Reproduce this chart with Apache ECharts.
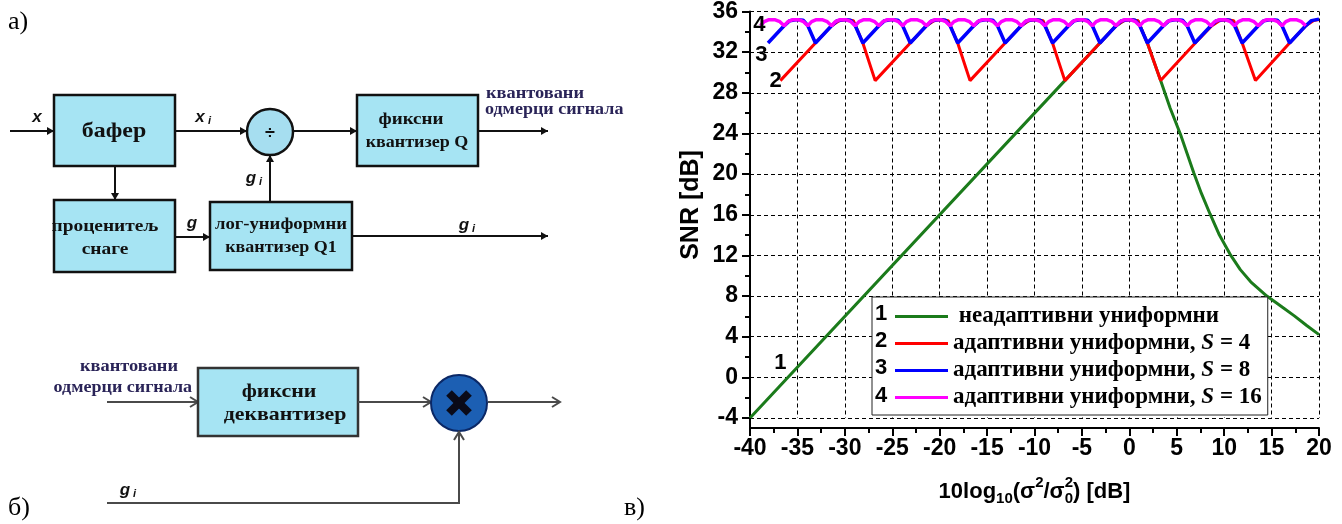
<!DOCTYPE html>
<html>
<head>
<meta charset="utf-8">
<script src="https://cdn.jsdelivr.net/npm/echarts@6/dist/echarts.min.js"></script>
<style>
  html, body { margin: 0; padding: 0; background: #fff; }
  #c { width: 1342px; height: 524px; }
</style>
</head>
<body>
<div id="c"></div>
<script>
// ---- data: SNR [dB] versus 10log10(sigma^2/sigma0^2) [dB] ----
const seriesNames = [
  'неадаптивни униформни',
  'адаптивни униформни, S = 4',
  'адаптивни униформни, S = 8',
  'адаптивни униформни, S = 16'
];
const seriesTags = ['1', '2', '3', '4'];

const nonAdaptive = [
  [-40, -4], [-6.8, 29.2], [-3.1, 32.9], [-1.4, 34.6], [-0.6, 35.1], [0.2, 35.2], [0.9, 35.1],
  [1.9, 32.9], [3.3, 29.2], [4.3, 26.5], [5.4, 23.9], [6.1, 22.0], [6.8, 20.1], [7.6, 18.1],
  [8.5, 16.1], [9.5, 14.0], [10.7, 12.0], [11.7, 10.6], [12.8, 9.4], [14.5, 8.0], [16.0, 7.0],
  [17.4, 6.05], [18.7, 5.1], [20, 4.2]
];

const adaptiveS4 = [
  [-36.8, 29.2], [-33.1, 32.9], [-31.4, 34.6], [-30.6, 35.1], [-29.8, 35.2], [-29.1, 35.1], [-28.1, 32.9], [-26.8, 29.2],
  [-23.1, 32.9], [-21.4, 34.6], [-20.6, 35.1], [-19.8, 35.2], [-19.1, 35.1], [-18.1, 32.9], [-16.8, 29.2],
  [-13.1, 32.9], [-11.4, 34.6], [-10.6, 35.1], [-9.8, 35.2], [-9.1, 35.1], [-8.1, 32.9], [-6.8, 29.2],
  [-3.1, 32.9], [-1.4, 34.6], [-0.6, 35.1], [0.2, 35.2], [0.9, 35.1], [1.9, 32.9], [3.3, 29.2],
  [6.95, 32.9], [8.7, 34.6], [9.5, 35.1], [10.3, 35.2], [11.0, 35.1], [11.9, 32.9], [13.3, 29.2],
  [16.9, 32.9], [18.6, 34.6], [19.4, 35.1], [20, 35.2]
];

const adaptiveS8 = [
  [-38.1, 32.9], [-36.5, 34.5], [-35.8, 35.1], [-35.0, 35.2], [-34.4, 35.15], [-33.9, 34.6], [-33.1, 32.9],
  [-31.5, 34.5], [-30.8, 35.1], [-30.0, 35.2], [-29.4, 35.15], [-28.9, 34.6], [-28.1, 32.9],
  [-26.5, 34.5], [-25.8, 35.1], [-25.0, 35.2], [-24.4, 35.15], [-23.9, 34.6], [-23.1, 32.9],
  [-21.5, 34.5], [-20.8, 35.1], [-20.0, 35.2], [-19.4, 35.15], [-18.9, 34.6], [-18.1, 32.9],
  [-16.5, 34.5], [-15.8, 35.1], [-15.0, 35.2], [-14.4, 35.15], [-13.9, 34.6], [-13.1, 32.9],
  [-11.5, 34.5], [-10.8, 35.1], [-10.0, 35.2], [-9.4, 35.15], [-8.9, 34.6], [-8.1, 32.9],
  [-6.5, 34.5], [-5.8, 35.1], [-5.0, 35.2], [-4.4, 35.15], [-3.9, 34.6], [-3.1, 32.9],
  [-1.5, 34.5], [-0.8, 35.1], [0.0, 35.2], [0.6, 35.15], [1.1, 34.6], [1.9, 32.9],
  [3.5, 34.5], [4.2, 35.1], [5.0, 35.2], [5.6, 35.15], [6.1, 34.6], [6.9, 32.9],
  [8.5, 34.5], [9.2, 35.1], [10.0, 35.2], [10.6, 35.15], [11.1, 34.6], [11.9, 32.9],
  [13.5, 34.5], [14.2, 35.1], [15.0, 35.2], [15.6, 35.15], [16.1, 34.6], [16.9, 32.9],
  [18.5, 34.5], [19.2, 35.1], [20, 35.25]
];

const adaptiveS16 = [
  [-38.9, 34.6], [-38.5, 35.0], [-38.0, 35.2], [-37.4, 35.2], [-36.85, 35.0],
  [-36.4, 34.6], [-36.0, 35.0], [-35.5, 35.2], [-34.9, 35.2], [-34.35, 35.0],
  [-33.9, 34.6], [-33.5, 35.0], [-33.0, 35.2], [-32.4, 35.2], [-31.85, 35.0],
  [-31.4, 34.6], [-31.0, 35.0], [-30.5, 35.2], [-29.9, 35.2], [-29.35, 35.0],
  [-28.9, 34.6], [-28.5, 35.0], [-28.0, 35.2], [-27.4, 35.2], [-26.85, 35.0],
  [-26.4, 34.6], [-26.0, 35.0], [-25.5, 35.2], [-24.9, 35.2], [-24.35, 35.0],
  [-23.9, 34.6], [-23.5, 35.0], [-23.0, 35.2], [-22.4, 35.2], [-21.85, 35.0],
  [-21.4, 34.6], [-21.0, 35.0], [-20.5, 35.2], [-19.9, 35.2], [-19.35, 35.0],
  [-18.9, 34.6], [-18.5, 35.0], [-18.0, 35.2], [-17.4, 35.2], [-16.85, 35.0],
  [-16.4, 34.6], [-16.0, 35.0], [-15.5, 35.2], [-14.9, 35.2], [-14.35, 35.0],
  [-13.9, 34.6], [-13.5, 35.0], [-13.0, 35.2], [-12.4, 35.2], [-11.85, 35.0],
  [-11.4, 34.6], [-11.0, 35.0], [-10.5, 35.2], [-9.9, 35.2], [-9.35, 35.0],
  [-8.9, 34.6], [-8.5, 35.0], [-8.0, 35.2], [-7.4, 35.2], [-6.85, 35.0],
  [-6.4, 34.6], [-6.0, 35.0], [-5.5, 35.2], [-4.9, 35.2], [-4.35, 35.0],
  [-3.9, 34.6], [-3.5, 35.0], [-3.0, 35.2], [-2.4, 35.2], [-1.85, 35.0],
  [-1.4, 34.6], [-1.0, 35.0], [-0.5, 35.2], [0.1, 35.2], [0.65, 35.0],
  [1.1, 34.6], [1.5, 35.0], [2.0, 35.2], [2.6, 35.2], [3.15, 35.0],
  [3.6, 34.6], [4.0, 35.0], [4.5, 35.2], [5.1, 35.2], [5.65, 35.0],
  [6.1, 34.6], [6.5, 35.0], [7.0, 35.2], [7.6, 35.2], [8.15, 35.0],
  [8.6, 34.6], [9.0, 35.0], [9.5, 35.2], [10.1, 35.2], [10.65, 35.0],
  [11.1, 34.6], [11.5, 35.0], [12.0, 35.2], [12.6, 35.2], [13.15, 35.0],
  [13.6, 34.6], [14.0, 35.0], [14.5, 35.2], [15.1, 35.2], [15.65, 35.0],
  [16.1, 34.6], [16.5, 35.0], [17.0, 35.2], [17.6, 35.2], [18.15, 35.0],
  [18.6, 34.6]
];

const seriesData = [nonAdaptive, adaptiveS4, adaptiveS8, adaptiveS16];
const seriesColors = ['#1b7b1b', '#ff0000', '#0000ff', '#ff00ff'];
const seriesWidths = [3, 3, 3.5, 3.5];

// ---- fonts ----
const SANS = '"Liberation Sans", Arial, sans-serif';
const SERIF = '"Liberation Serif", "Times New Roman", serif';

const chart = echarts.init(document.getElementById('c'), null, { renderer: 'canvas' });

const gridLine = { show: true, lineStyle: { color: '#000', type: [4, 3], width: 1 } };
const axisText = { color: '#000', fontFamily: SANS, fontWeight: 'bold', fontSize: 23 };

function legendText(name) {
  const k = name.indexOf('S =');
  if (k < 0) return '{t| ' + name + '}';
  return '{t|' + name.slice(0, k) + '}{i|S}{t|' + name.slice(k + 1) + '}';
}

const option = {
  animation: false,
  backgroundColor: '#fff',
  grid: { left: 750, right: 23, top: 11.4, bottom: 106 },
  xAxis: {
    type: 'value', min: -40, max: 20, interval: 5, offset: 10,
    axisLine: { show: true, onZero: false, lineStyle: { color: '#000', width: 2 } },
    axisTick: { show: true, length: 8, lineStyle: { color: '#000', width: 2 } },
    minorTick: { show: true, splitNumber: 2, length: 5, lineStyle: { color: '#000', width: 2 } },
    axisLabel: Object.assign({ margin: 9 }, axisText),
    splitLine: gridLine
  },
  yAxis: {
    type: 'value', min: -4, max: 36, interval: 4,
    axisLine: { show: true, onZero: false, lineStyle: { color: '#000', width: 2 } },
    axisTick: { show: true, length: 8, lineStyle: { color: '#000', width: 2 } },
    minorTick: { show: true, splitNumber: 2, length: 5, lineStyle: { color: '#000', width: 2 } },
    axisLabel: Object.assign({ margin: 12 }, axisText),
    splitLine: gridLine
  },
  legend: {
    orient: 'vertical', left: 872, top: 297,
    padding: [8, 6, 6, 23], itemGap: 4,
    itemWidth: 53, itemHeight: 3, icon: 'rect',
    selectedMode: false,
    borderColor: '#222', borderWidth: 1, backgroundColor: '#fff',
    data: seriesNames,
    formatter: legendText,
    textStyle: {
      color: '#000',
      rich: {
        t: { fontFamily: SERIF, fontWeight: 'bold', fontSize: 23, color: '#000' },
        i: { fontFamily: SERIF, fontWeight: 'bold', fontStyle: 'italic', fontSize: 23, color: '#000' }
      }
    }
  },
  series: seriesData.map((d, i) => ({
    name: seriesNames[i],
    type: 'line',
    data: d,
    showSymbol: false,
    symbol: 'none',
    color: seriesColors[i],
    lineStyle: { color: seriesColors[i], width: seriesWidths[i] },
    z: 2 + i
  }))
};

chart.setOption(option);

// ---- graphic layer: block diagrams, panel letters, curve tags, axis titles ----
const G = [];
const FILL = '#a6e4f3';
const INK = '#111';
const GREY = '#4a4a4a';

function box(x, y, w, h, stroke) {
  G.push({ type: 'rect', shape: { x, y, width: w, height: h },
    style: { fill: FILL, stroke: stroke || INK, lineWidth: 2.5 }, z: 10 });
}
function poly(points, color, w) {
  G.push({ type: 'polyline', shape: { points },
    style: { stroke: color || INK, lineWidth: w || 2, fill: null }, z: 10 });
}
function head(x, y, dir, color) {
  const L = 7, W = 4;
  let pts;
  if (dir === 'r') pts = [[x, y], [x - L, y - W], [x - L, y + W]];
  if (dir === 'd') pts = [[x, y], [x - W, y - L], [x + W, y - L]];
  if (dir === 'u') pts = [[x, y], [x - W, y + L], [x + W, y + L]];
  G.push({ type: 'polygon', shape: { points: pts }, style: { fill: color || INK }, z: 11 });
}
function chevron(x, y, dir, color) {
  const L = 8, W = 5;
  let pts;
  if (dir === 'r') pts = [[x - L, y - W], [x, y], [x - L, y + W]];
  if (dir === 'u') pts = [[x - W, y + L], [x, y], [x + W, y + L]];
  poly(pts, color || GREY, 2);
}
// text placed at (x, y), optionally stretched horizontally by sx
function txt(x, y, text, font, align, color, sx, rot) {
  G.push({ type: 'text', z: 12, x, y, scaleX: sx || 1, rotation: rot || 0,
    style: { text, x: 0, y: 0, font, fill: color || INK, align: align || 'center', verticalAlign: 'middle' } });
}
function sub(x, y, base, s, color) {
  txt(x, y, base, 'bold italic 17px ' + SANS, 'center', color);
  txt(x + 8, y + 4, s, 'bold italic 11px ' + SANS, 'left', color);
}

const BOXFONT = 'bold 17px ' + SERIF;
const SX = 1.12;
const LABELCOLOR = '#2a2458';

// panel letters
txt(8, 22, 'а)', '26px ' + SERIF, 'left', '#000');
txt(8, 508, 'б)', '26px ' + SERIF, 'left', '#000');
txt(624, 508, 'в)', '26px ' + SERIF, 'left', '#000');

// (а) encoder
poly([[10, 131], [54, 131]]); head(54, 131, 'r');
txt(37, 117, 'x', 'bold italic 17px ' + SANS);
box(54, 95, 121, 71);
txt(114, 132, 'бафер', 'bold 21px ' + SERIF, 'center', INK, 1.14);
poly([[175, 131], [247, 131]]); head(247, 131, 'r');
sub(200, 117, 'x', 'i');
G.push({ type: 'circle', shape: { cx: 270, cy: 132, r: 23 },
  style: { fill: '#a6def0', stroke: INK, lineWidth: 2.5 }, z: 10 });
txt(270, 134, '÷', 'bold 18px ' + SANS);
poly([[293, 131], [357, 131]]); head(357, 131, 'r');
box(357, 95, 121, 71);
txt(411, 120, 'фиксни', BOXFONT, 'center', INK, SX);
txt(417, 143, 'квантизер Q', BOXFONT, 'center', INK, 1.06);
poly([[478, 131], [548, 131]]); head(548, 131, 'r');
txt(486, 94, 'квантовани', BOXFONT, 'left', LABELCOLOR, 1.08);
txt(485, 110, 'одмерци сигнала', BOXFONT, 'left', LABELCOLOR, 1.06);
poly([[115, 166], [115, 200]]); head(115, 200, 'd');
box(54, 200, 121, 72);
txt(105, 227, 'проценитељ', BOXFONT, 'center', INK, 1.14);
txt(105, 250, 'снаге', BOXFONT, 'center', INK, 1.14);
poly([[175, 237], [210, 237]]); head(210, 237, 'r');
txt(192, 223, 'g', 'bold italic 17px ' + SANS);
box(210, 202, 142, 68);
txt(281, 225, 'лог-униформни', BOXFONT, 'center', INK, 1.1);
txt(281, 248, 'квантизер Q1', BOXFONT, 'center', INK, 1.06);
poly([[270, 202], [270, 155]]); head(270, 155, 'u');
sub(251, 178, 'g', 'i');
poly([[352, 236], [548, 236]]); head(548, 236, 'r');
sub(464, 225, 'g', 'i');

// (б) decoder
txt(129, 367, 'квантовани', BOXFONT, 'center', LABELCOLOR, 1.08);
txt(192, 388, 'одмерци сигнала', BOXFONT, 'right', LABELCOLOR, 1.06);
poly([[107, 402], [198, 402]], GREY); chevron(198, 402, 'r');
box(198, 368, 160, 68, '#333');
txt(279, 392, 'фиксни', 'bold 19px ' + SERIF, 'center', INK, 1.15);
txt(285, 415, 'деквантизер', 'bold 19px ' + SERIF, 'center', INK, 1.15);
poly([[358, 402], [431, 402]], GREY); chevron(431, 402, 'r');
G.push({ type: 'circle', shape: { cx: 459, cy: 403, r: 28 },
  style: { fill: '#1c5fb3', stroke: '#0b2866', lineWidth: 2 }, z: 10 });
G.push({ type: 'polyline', shape: { points: [[449, 393], [469, 413]] },
  style: { stroke: '#0a0a18', lineWidth: 8, fill: null }, z: 11 });
G.push({ type: 'polyline', shape: { points: [[469, 393], [449, 413]] },
  style: { stroke: '#0a0a18', lineWidth: 8, fill: null }, z: 11 });
poly([[488, 402], [560, 402]], GREY); chevron(560, 402, 'r');
sub(125, 490, 'g', 'i');
poly([[107, 503], [459, 503], [459, 432]], GREY); chevron(459, 432, 'u');

// y axis runs down to the offset x axis
const p0 = chart.convertToPixel({ gridIndex: 0 }, [-40, -4]);
G.push({ type: 'line', shape: { x1: p0[0], y1: p0[1], x2: p0[0], y2: p0[1] + 11 },
  style: { stroke: '#000', lineWidth: 2 }, z: 5 });

// y axis title
txt(691, 205, 'SNR [dB]', 'bold 25px ' + SANS, 'center', '#000', 1, Math.PI / 2);

// curve tags next to the curves
const tagFont = 'bold 22px ' + SANS;
[[-36.8, 1.4], [-37.3, 29.2], [-38.8, 31.7], [-39.0, 34.7]].forEach((c, i) => {
  const p = chart.convertToPixel({ gridIndex: 0 }, c);
  txt(p[0], p[1], seriesTags[i], tagFont, 'center', '#000');
});

// numbers in front of the legend keys
[314, 341, 368, 396].forEach((y, i) => txt(881, y, seriesTags[i], tagFont, 'center', '#000'));

// x axis title with sub/superscripts
(function () {
  const ctx = document.createElement('canvas').getContext('2d');
  const big = 'bold 22px ' + SANS, small = 'bold 15px ' + SANS;
  const parts = [
    { t: '10log', f: big, dy: 0 },
    { t: '10', f: small, dy: 7 },
    { t: '(σ', f: big, dy: 0 },
    { t: '2', f: small, dy: -9 },
    { t: '/σ', f: big, dy: 0 },
    { t: '0', f: small, dy: 7, stack: true },
    { t: '2', f: small, dy: -9 },
    { t: ') [dB]', f: big, dy: 0 }
  ];
  const w = p => { ctx.font = p.f; return ctx.measureText(p.t).width; };
  let total = 0;
  parts.forEach(p => { if (!p.stack) total += w(p); });
  const cx = (chart.convertToPixel({ gridIndex: 0 }, [-40, 0])[0] + chart.convertToPixel({ gridIndex: 0 }, [20, 0])[0]) / 2;
  let x = cx - total / 2;
  const y = 492;
  parts.forEach(p => {
    txt(x, y + p.dy, p.t, p.f, 'left', '#000');
    if (!p.stack) x += w(p);
  });
})();

chart.setOption({ graphic: G });
</script>
</body>
</html>
